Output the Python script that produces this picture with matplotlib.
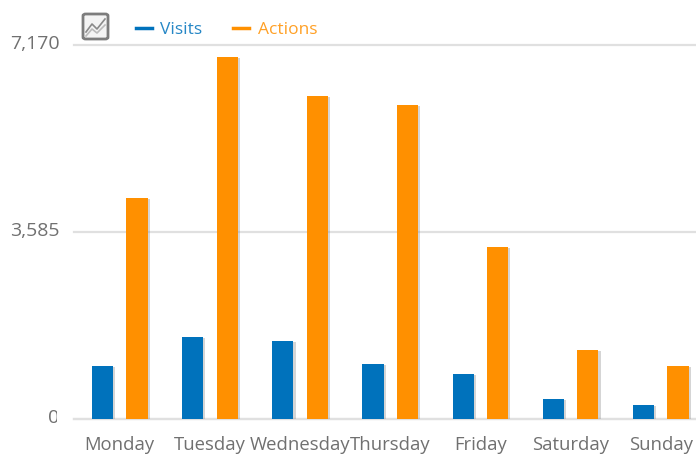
import numpy as np
import matplotlib
matplotlib.use("Agg")
import matplotlib.pyplot as plt
import matplotlib.patheffects as pe
from matplotlib.patches import FancyBboxPatch
from matplotlib.lines import Line2D
from matplotlib.transforms import Bbox, ScaledTranslation

plt.rcParams['font.family'] = ['Open Sans', 'DejaVu Sans']

days = ["Monday", "Tuesday", "Wednesday", "Thursday", "Friday", "Saturday", "Sunday"]
visits = [1016, 1572, 1495, 1054, 863, 383, 268]
actions = [4237, 6940, 6192, 6020, 3297, 1323, 1016]
yticks = [0, 3585, 7170]
ytick_labels = ["0", "3,585", "7,170"]

BLUE = "#0072bc"
ORANGE = "#ff9000"
GREY = "#707070"
W, H = 696, 454


def px(x, y):
    # pixel position from the top left, as figure fraction
    return x / W, 1 - y / H


fig = plt.figure(figsize=(W / 100, H / 100), dpi=100)
ax = fig.add_axes([74 / W, 35 / H, 622 / W, 374 / H])

x = np.arange(len(days))
shadow = [pe.SimplePatchShadow(offset=(1.5, -0.5), shadow_rgbFace="#888888", alpha=0.35), pe.Normal()]
ax.bar(x - 0.191, visits, width=0.235, color=BLUE, path_effects=shadow, zorder=3)
ax.bar(x + 0.191, actions, width=0.235, color=ORANGE, path_effects=shadow, zorder=3)

ax.set_xlim(-0.507, 6.39)
ax.set_ylim(0, 7170)
for s in ["top", "right", "left"]:
    ax.spines[s].set_visible(False)
ax.spines["bottom"].set_color("#e0e0e0")
ax.spines["bottom"].set_linewidth(1.6)

ax.set_yticks(yticks)
ax.set_yticklabels(ytick_labels, fontsize=14, color=GREY)
ax.tick_params(axis="y", length=0, pad=10.5)
ax.yaxis.grid(True, color="#e0e0e0", linewidth=1.6, zorder=0)
for line in ax.yaxis.get_gridlines():
    line.set_clip_on(False)
ax.set_axisbelow(True)

ax.set_xticks(x)
ax.set_xticklabels(days, fontsize=13.3, color=GREY)
ax.tick_params(axis="x", length=0, pad=12)

# y labels sit a little above their grid lines
fig.canvas.draw()
up = ScaledTranslation(0, 2 / 72, fig.dpi_scale_trans)
for lab in ax.get_yticklabels():
    lab.set_transform(lab.get_transform() + up)

# labels cut off at the right end in the original
mon = ax.get_xticklabels()[0]
mon.set_clip_box(Bbox([[70, 0], [154, 60]]))
mon.set_clip_on(True)
zero = ax.get_yticklabels()[0]
zero.set_clip_box(Bbox([[30, 20], [57, 60]]))
zero.set_clip_on(True)

# small chart icon
x0, y0 = px(83, 39)
x1, y1 = px(108, 14)
fig.add_artist(FancyBboxPatch((x0, y0), x1 - x0, y1 - y0, boxstyle="round,pad=0,rounding_size=0.004",
                              transform=fig.transFigure, fc="#f4f4f4", ec="#7d7d7d", lw=2))
ix = [86, 92, 97, 105]
fig.add_artist(Line2D(*zip(*[px(a, b) for a, b in zip(ix, [32, 24, 29, 19])]),
                      transform=fig.transFigure, color="#8a8a8a", lw=1.2))
fig.add_artist(Line2D(*zip(*[px(a, b) for a, b in zip(ix, [36, 29, 33, 25])]),
                      transform=fig.transFigure, color="#bbbbbb", lw=1.2))

# legend
for x_a, x_b, x_t, name, col in [(136, 152, 160, "Visits", BLUE), (233, 249, 258, "Actions", ORANGE)]:
    fig.add_artist(Line2D(*zip(px(x_a, 28), px(x_b, 28)), transform=fig.transFigure, color=col, lw=2.5))
    tx, ty = px(x_t, 29.5)
    fig.text(tx, ty, name, color=col, fontsize=12.5, va="center", ha="left", alpha=0.85)

fig.savefig("out.png", dpi=100)
